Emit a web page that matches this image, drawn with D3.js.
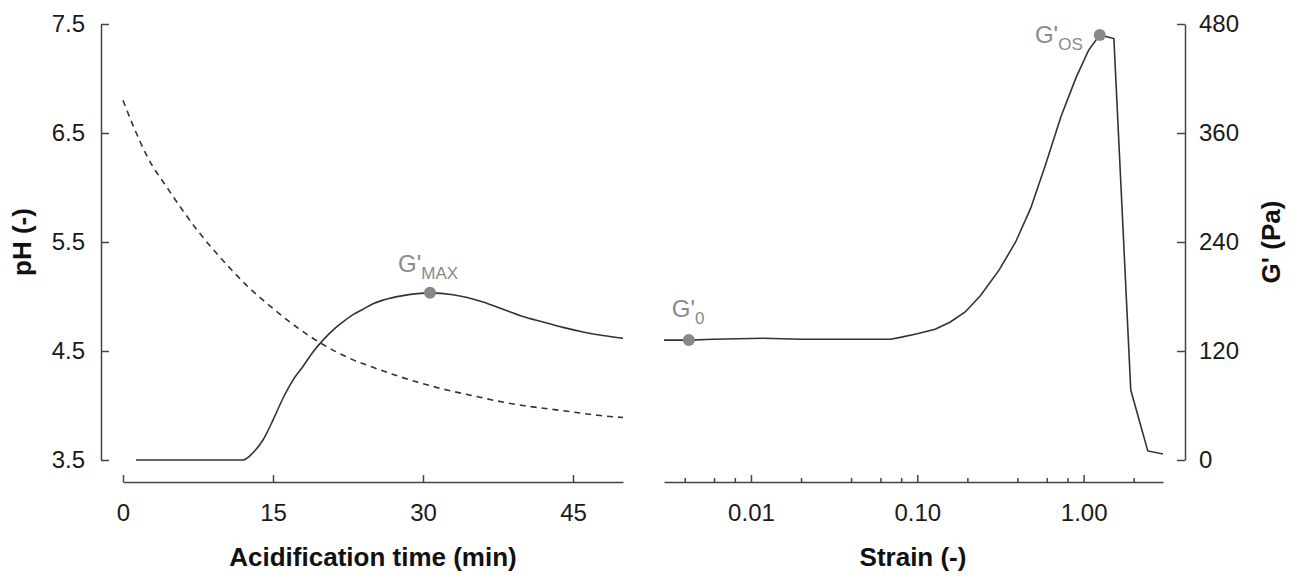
<!DOCTYPE html>
<html lang="en">
<head>
    <meta charset="UTF-8">
    <title>pH and G' during acidification / strain sweep</title>
    <script src="https://d3js.org/d3.v7.min.js"></script>
    <style>
        body { margin: 0; background: #fff; }
        svg { display: block; font-family: "Liberation Sans", Arial, sans-serif; }
        .tick text { font-size: 24px; fill: #1a1a1a; }
        .axis path, .axis line { stroke: #444; stroke-width: 1.5; }
        .title { font-size: 26px; font-weight: bold; fill: #111; }
        .note { fill: #8a8a8a; }
    </style>
</head>
<body>
<svg id="chart" width="1294" height="577"></svg>
<script>
    // acidification: time (min) vs pH (dashed)
    const phTime = [0, 1, 2.5, 4.4, 7.5, 10, 12.5, 15, 17.5, 20, 22.5, 25, 27.5, 30, 32.5, 35, 37.5, 40, 42.5, 45, 47.5, 50];
    const phValue = [6.80, 6.57, 6.27, 6.00, 5.60, 5.33, 5.09, 4.89, 4.71, 4.56, 4.44, 4.35, 4.27, 4.20, 4.14, 4.09, 4.04, 4.00, 3.97, 3.94, 3.91, 3.89];

    // acidification: time (min) vs G' (Pa) (solid)
    const gTime = [1.3, 6, 12, 13, 14, 15, 16, 17, 18, 19, 20, 21, 22, 23, 24, 25, 26, 28, 30.7, 33, 36, 38, 40, 42, 44, 46, 48, 50];
    const gValue = [0, 0, 0, 8, 22, 44, 68, 88, 103, 119, 132, 143, 152, 160, 166, 172, 176, 181, 184, 182, 174, 166, 158, 152, 146, 141, 137, 134];

    // strain sweep: strain (-) vs G' (Pa)
    const strain = [0.003, 0.00423, 0.0059, 0.0118, 0.02, 0.04, 0.069, 0.079, 0.1, 0.128, 0.158, 0.194, 0.24, 0.31, 0.39, 0.48, 0.59, 0.73, 0.9, 1.07, 1.25, 1.52, 1.92, 2.43, 3.0];
    const strainG = [132, 132, 133, 134, 133, 133, 133, 135, 139, 144, 152, 163, 181, 209, 240, 277, 325, 378, 421, 451, 468, 464, 77, 10, 6.6];

    // ticks
    const phTicks = [3.5, 4.5, 5.5, 6.5, 7.5];
    const gTicks = [0, 120, 240, 360, 480];
    const timeTicks = [0, 15, 30, 45];
    const strainMajor = [0.01, 0.1, 1];
    const strainMinor = [0.004, 0.006, 0.008, 0.02, 0.04, 0.06, 0.08, 0.2, 0.4, 0.6, 0.8, 2];

    // marked points: label, subscript, x, y, panel
    const marks = [
        { name: "G'", sub: "MAX", x: 30.7, y: 184, panel: "time" },
        { name: "G'", sub: "0", x: 0.00423, y: 132, panel: "strain" },
        { name: "G'", sub: "OS", x: 1.25, y: 468, panel: "strain" }
    ];

    const svg = d3.select("#chart");

    const xTime = d3.scaleLinear().domain([0, 50]).range([123, 623]);
    const xStrain = d3.scaleLog().domain([0.003, 3]).range([664, 1163]);
    const yPh = d3.scaleLinear().domain([3.5, 7.5]).range([460, 24]);
    const yG = d3.scaleLinear().domain([0, 480]).range([460, 24]);

    // axes
    svg.append("g")
        .attr("class", "axis")
        .attr("transform", "translate(101,0)")
        .call(d3.axisLeft(yPh).tickValues(phTicks).tickFormat(d3.format(".1f"))
            .tickSize(-8).tickSizeOuter(0).tickPadding(16));

    svg.append("g")
        .attr("class", "axis")
        .attr("transform", "translate(1185,0)")
        .call(d3.axisRight(yG).tickValues(gTicks)
            .tickSize(-8).tickSizeOuter(0).tickPadding(14));

    svg.append("g")
        .attr("class", "axis")
        .attr("transform", "translate(0,482)")
        .call(d3.axisBottom(xTime).tickValues(timeTicks)
            .tickSize(-7).tickSizeOuter(0).tickPadding(22));

    const strainAxis = svg.append("g")
        .attr("class", "axis")
        .attr("transform", "translate(0,482)")
        .call(d3.axisBottom(xStrain).tickValues(strainMajor.concat(strainMinor))
            .tickFormat(d => strainMajor.includes(d) ? d3.format(".2f")(d) : "")
            .tickSize(-7).tickSizeOuter(0).tickPadding(22));
    strainAxis.selectAll(".tick")
        .filter(d => !strainMajor.includes(d))
        .select("line").attr("y2", -4);

    svg.selectAll(".axis .domain").attr("fill", "none");

    // curves
    svg.append("path")
        .datum(phTime.map((t, i) => [t, phValue[i]]))
        .attr("fill", "none")
        .attr("stroke", "#333")
        .attr("stroke-width", 1.6)
        .attr("stroke-dasharray", "6,5")
        .attr("d", d3.line().x(d => xTime(d[0])).y(d => yPh(d[1])).curve(d3.curveMonotoneX));

    svg.append("path")
        .datum(gTime.map((t, i) => [t, gValue[i]]))
        .attr("fill", "none")
        .attr("stroke", "#333")
        .attr("stroke-width", 1.6)
        .attr("d", d3.line().x(d => xTime(d[0])).y(d => yG(d[1])).curve(d3.curveMonotoneX));

    svg.append("path")
        .datum(strain.map((s, i) => [s, strainG[i]]))
        .attr("fill", "none")
        .attr("stroke", "#333")
        .attr("stroke-width", 1.6)
        .attr("d", d3.line().x(d => xStrain(d[0])).y(d => yG(d[1])));

    // marked points and their labels
    const px = d => d.panel === "time" ? xTime(d.x) : xStrain(d.x);

    svg.selectAll("circle.mark")
        .data(marks)
        .join("circle")
        .attr("class", "mark")
        .attr("cx", px)
        .attr("cy", d => yG(d.y))
        .attr("r", 6)
        .attr("fill", "#888");

    const labelPos = {
        "MAX": { dx: -32, dy: -21, anchor: "start" },
        "0": { dx: -17, dy: -23, anchor: "start" },
        "OS": { dx: -17, dy: 8, anchor: "end" }
    };

    marks.forEach(d => {
        const p = labelPos[d.sub];
        const t = svg.append("text")
            .attr("class", "note")
            .attr("x", px(d) + p.dx)
            .attr("y", yG(d.y) + p.dy)
            .attr("text-anchor", p.anchor)
            .style("font-size", "24px");
        t.append("tspan").text(d.name);
        t.append("tspan").attr("dy", 7).style("font-size", "17px").text(d.sub);
    });

    // axis titles
    svg.append("text")
        .attr("class", "title")
        .attr("x", 373).attr("y", 566)
        .attr("text-anchor", "middle")
        .text("Acidification time (min)");

    svg.append("text")
        .attr("class", "title")
        .attr("x", 913).attr("y", 566)
        .attr("text-anchor", "middle")
        .text("Strain (-)");

    svg.append("text")
        .attr("class", "title")
        .attr("transform", "translate(31,242) rotate(-90)")
        .attr("text-anchor", "middle")
        .text("pH (-)");

    svg.append("text")
        .attr("class", "title")
        .attr("transform", "translate(1280,242) rotate(-90)")
        .attr("text-anchor", "middle")
        .text("G' (Pa)");
</script>
</body>
</html>
